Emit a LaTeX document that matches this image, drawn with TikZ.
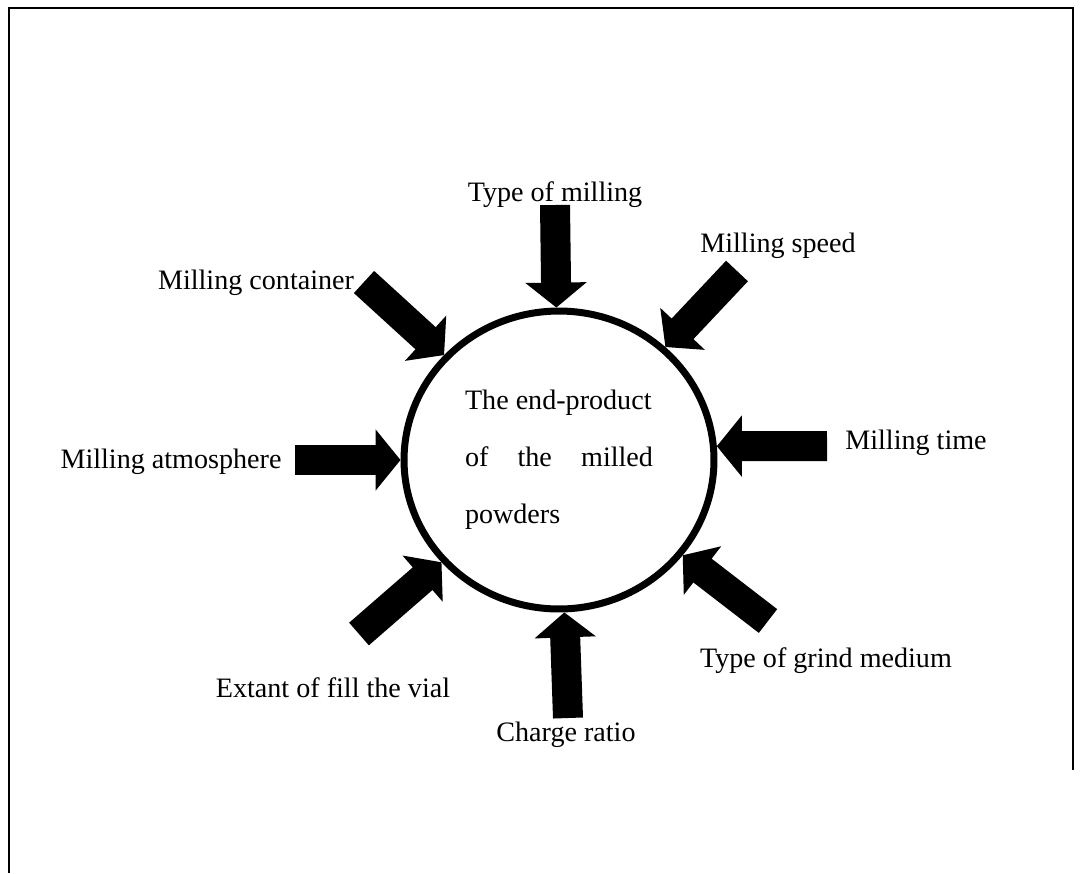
\documentclass[tikz,border=0pt]{standalone}
\usepackage{fontspec}
\setmainfont{Liberation Serif}
\usetikzlibrary{arrows.meta,shapes.geometric}

\begin{document}
\begin{tikzpicture}[x=0.02cm,y=-0.02cm,
  lbl/.style={font=\fontsize{16}{19}\selectfont,inner sep=0pt},
  push/.style={line width=0.6cm,-{Triangle[width=1.2cm,length=0.5cm]}},
  framebox/.style={line width=0.04cm}]
\useasboundingbox (0,0) rectangle (1084,873);
\draw[framebox] (9,873) -- (9,8) -- (1073,8) -- (1073,770);
% product in the middle
\node[draw,line width=0.14cm,ellipse,minimum width=6.2cm,minimum height=5.96cm,font=\fontsize{16}{32.4}\selectfont] (prod) at (559,460) {\parbox{3.76cm}{The end-product\\of\hfill the\hfill milled\\powders}};
% tails of the arrows
\coordinate (tType) at (555,205);
\coordinate (tCont) at (364,282);
\coordinate (tSpeed) at (737,271);
\coordinate (tAtmo) at (295,460);
\coordinate (tTime) at (827,446);
\coordinate (tFill) at (359,634);
\coordinate (tGrind) at (768,621);
\coordinate (tCharge) at (568,718);
\draw[push] (tType) -- (prod.91.5); \draw[push] (tCont) -- (prod); \draw[push] (tSpeed) -- (prod); \draw[push] (tAtmo) -- (prod);
\draw[push] (tTime) -- (prod.5); \draw[push] (tFill) -- (prod); \draw[push] (tGrind) -- (prod); \draw[push] (tCharge) -- (prod);
% factors
\node[lbl] (lType) at (555,195) {Type of milling};
\node[lbl] (lCont) at (256,283) {Milling container};
\node[lbl] (lSpeed) at (778,246) {Milling speed};
\node[lbl] (lAtmo) at (171,462) {Milling atmosphere};
\node[lbl] (lTime) at (916,443) {Milling time};
\node[lbl] (lFill) at (333,688) {Extant of fill the vial};
\node[lbl] (lGrind) at (826,661) {Type of grind medium};
\node[lbl] (lCharge) at (566,735) {Charge ratio};
\end{tikzpicture}
\end{document}
